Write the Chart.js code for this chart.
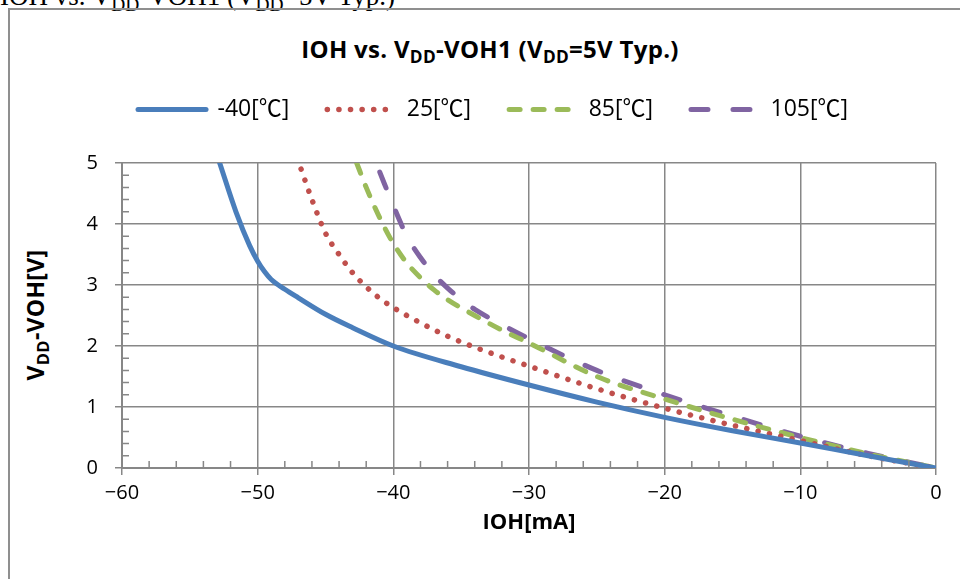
<!doctype html>
<html>
<head>
<meta charset="utf-8">
<script src="https://cdn.jsdelivr.net/npm/chart.js@4/dist/chart.umd.min.js"></script>
<style>
  body { margin:0; background:#fff; }
  #wrap { position:relative; width:960px; height:579px; overflow:hidden; }
  #frame { position:absolute; left:8px; top:8px; width:1000px; height:700px; border:2px solid #8f8f8f; box-sizing:border-box; }
  #caption { position:absolute; left:0; top:-19px; font:27px "Liberation Serif", serif; white-space:nowrap; color:#000; }
  #title { position:absolute; left:490px; top:48px; transform:translate(-50%,-50%); font:bold 24px "Open Sans", sans-serif; letter-spacing:0.3px; white-space:nowrap; }
  #ytitle { position:absolute; left:35px; top:315px; transform:translate(-50%,-50%) rotate(-90deg); font:bold 23px "Open Sans", sans-serif; letter-spacing:0.3px; white-space:nowrap; }
  sub { font-size:0.72em; vertical-align:-0.3em; line-height:0; }
  canvas { position:absolute; left:0; top:0; }
</style>
</head>
<body>
<div id="wrap">
  <div id="caption">IOH vs. V<sub>DD</sub>-VOH1 (V<sub>DD</sub>=5V Typ.)</div>
  <div id="frame"></div>
  <div id="title">IOH vs. V<sub>DD</sub>-VOH1 (V<sub>DD</sub>=5V Typ.)</div>
  <div id="ytitle">V<sub>DD</sub>-VOH[V]</div>
  <canvas id="myChart" width="960" height="579"></canvas>
</div>
<script>
// series labels
const seriesNames = ['-40[℃]', '25[℃]', '85[℃]', '105[℃]'];

// IOH [mA] / VDD-VOH [V]
const ioh_m40 = [-52.8, -51.6, -50.6, -50, -49.5, -49, -48, -47, -45, -43, -40, -35, -30, -25, -20, -15, -10, -5, 0];
const v_m40   = [5.0, 4.2, 3.65, 3.39, 3.22, 3.09, 2.93, 2.79, 2.52, 2.30, 2.0, 1.66, 1.36, 1.08, 0.83, 0.61, 0.41, 0.2, 0];

const ioh_25 = [-46.8, -46, -45, -44, -43, -42, -41, -40, -38, -36, -34, -32, -30, -25, -20, -15, -10, -5, 0];
const v_25   = [4.9, 4.4, 3.85, 3.5, 3.2, 2.97, 2.78, 2.63, 2.38, 2.16, 1.98, 1.82, 1.67, 1.3, 0.98, 0.7, 0.45, 0.2, 0];

const ioh_85 = [-42.7, -42, -41, -40, -39, -38, -37, -36, -34, -32, -30, -25, -20, -15, -10, -5, 0];
const v_85   = [5.0, 4.6, 4.1, 3.68, 3.36, 3.12, 2.92, 2.76, 2.5, 2.26, 2.05, 1.5, 1.13, 0.8, 0.5, 0.23, 0];

const ioh_105 = [-41, -40, -39, -38, -37, -36, -35, -34, -32, -30, -25, -20, -15, -10, -5, 0];
const v_105   = [4.85, 4.3, 3.8, 3.45, 3.17, 2.95, 2.76, 2.6, 2.35, 2.12, 1.6, 1.2, 0.85, 0.52, 0.24, 0];

const xTicks = [-60, -50, -40, -30, -20, -10, 0];
const yTicks = [0, 1, 2, 3, 4, 5];

const pts = (xs, ys) => xs.map((x, i) => ({x: x, y: ys[i]}));
const gridColor = '#878787';
const fontFam = '"Open Sans", "Noto Sans CJK JP", sans-serif';

// small minor ticks along both axes
const minorTicks = {
  id: 'minorTicks',
  afterDraw(chart) {
    const {ctx, scales: {x, y}} = chart;
    ctx.save();
    ctx.strokeStyle = gridColor;
    ctx.lineWidth = 1.5;
    ctx.beginPath();
    for (let v = -58; v < 0; v += 2) {
      if (v % 10 === 0) continue;
      const px = x.getPixelForValue(v);
      ctx.moveTo(px, y.bottom);
      ctx.lineTo(px, y.bottom - 7);
    }
    for (let k = 1; k < 25; k++) {
      if (k % 5 === 0) continue;
      const py = y.getPixelForValue(k * 0.2);
      ctx.moveTo(x.left, py);
      ctx.lineTo(x.left + 7, py);
    }
    ctx.stroke();
    ctx.restore();
  }
};

// leave some room under the legend
const legendGap = {
  id: 'legendGap',
  beforeInit(chart) {
    const fit = chart.legend.fit;
    chart.legend.fit = function () {
      fit.call(this);
      this.height += 32;
    };
  }
};

const minus = v => (v < 0 ? '\u2212' + Math.abs(v) : '' + v);

const ctx = document.getElementById('myChart').getContext('2d');
const myChart = new Chart(ctx, {
  type: 'scatter',
  data: {
    datasets: [{
      label: seriesNames[0],
      data: pts(ioh_m40, v_m40),
      borderColor: '#4a7ebb',
      borderWidth: 5,
      borderCapStyle: 'round'
    }, {
      label: seriesNames[1],
      data: pts(ioh_25, v_25),
      borderColor: '#c0504d',
      borderWidth: 5.5,
      borderDash: [0.1, 11.5],
      borderCapStyle: 'round'
    }, {
      label: seriesNames[2],
      data: pts(ioh_85, v_85),
      borderColor: '#9bbb59',
      borderWidth: 5,
      borderDash: [11, 13],
      borderCapStyle: 'round'
    }, {
      label: seriesNames[3],
      data: pts(ioh_105, v_105),
      borderColor: '#8064a2',
      borderWidth: 5,
      borderDash: [17, 25],
      borderCapStyle: 'round'
    }]
  },
  options: {
    responsive: false,
    animation: false,
    showLine: true,
    elements: {
      point: { radius: 0 },
      line: { cubicInterpolationMode: 'monotone', fill: false }
    },
    layout: { padding: { top: 60, right: 24, left: 50, bottom: 0 } },
    plugins: {
      tooltip: { enabled: false },
      legend: {
        position: 'top',
        labels: {
          usePointStyle: true,
          pointStyle: 'line',
          pointStyleWidth: 68,
          padding: 38,
          color: '#000',
          font: { family: fontFam, size: 23 },
          generateLabels(chart) {
            const items = Chart.defaults.plugins.legend.labels.generateLabels(chart);
            items.forEach((it, i) => {
              const ds = chart.data.datasets[i];
              it.lineDash = ds.borderDash || [];
              it.lineCap = 'round';
              it.lineWidth = ds.borderWidth;
              it.strokeStyle = ds.borderColor;
            });
            return items;
          }
        }
      }
    },
    scales: {
      x: {
        type: 'linear',
        min: -60, max: 0,
        afterBuildTicks: s => { s.ticks = xTicks.map(v => ({value: v})); },
        afterFit: s => { s.height = 111; },
        grid: { color: gridColor, lineWidth: 1.5, tickLength: 7 },
        border: { color: gridColor, width: 2 },
        ticks: { color: '#000', font: { family: fontFam, size: 20 }, padding: 6, callback: minus, maxRotation: 0 },
        title: { display: true, text: 'IOH[mA]', color: '#000', font: { family: fontFam, size: 22, weight: 'bold' }, padding: { top: 4, bottom: 43 } }
      },
      y: {
        type: 'linear',
        min: 0, max: 5,
        afterBuildTicks: s => { s.ticks = yTicks.map(v => ({value: v})); },
        afterFit: s => { s.width = 72; },
        grid: { color: gridColor, lineWidth: 1.5, tickLength: 7 },
        border: { color: gridColor, width: 2 },
        ticks: { color: '#000', font: { family: fontFam, size: 20 }, padding: 17 }
      }
    }
  },
  plugins: [minorTicks, legendGap]
});
</script>
</body>
</html>
